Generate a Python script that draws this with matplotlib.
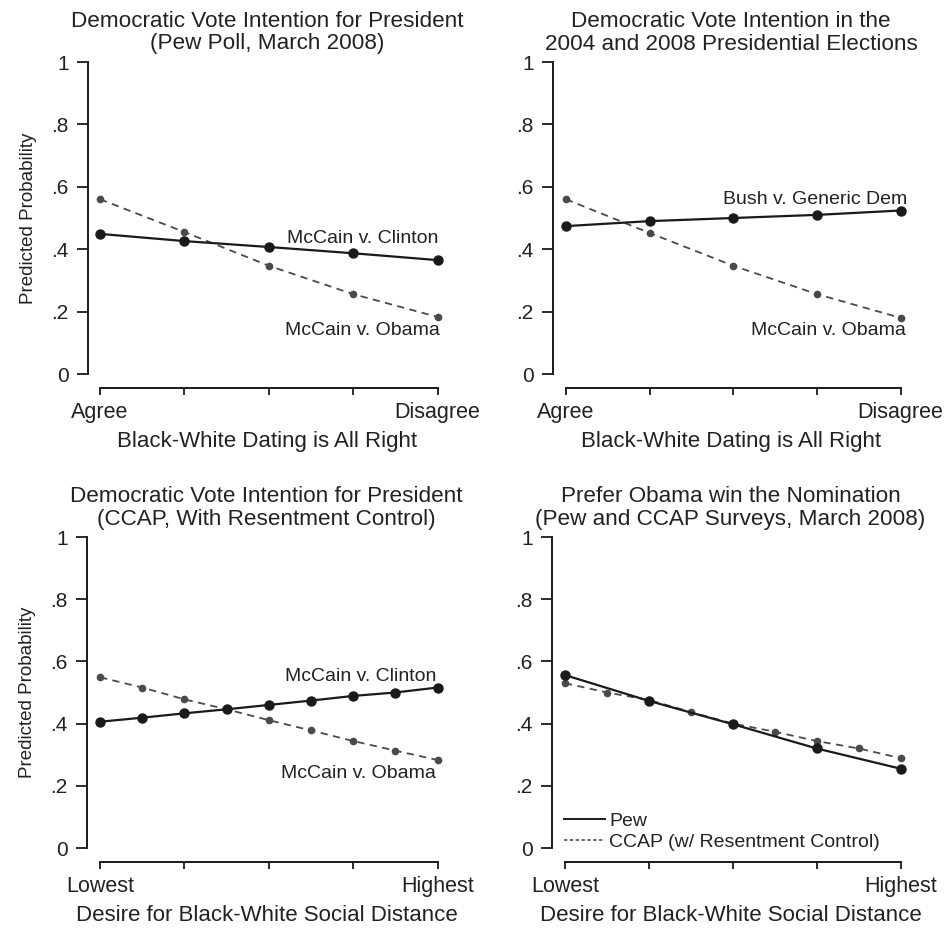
import matplotlib
matplotlib.use("Agg")
import matplotlib.pyplot as plt
from matplotlib.lines import Line2D

plt.rcParams['font.family'] = ['Liberation Sans', 'DejaVu Sans']

# ---------------- data ----------------
x5 = [1, 2, 3, 4, 5]
x9 = [1, 1.5, 2, 2.5, 3, 3.5, 4, 4.5, 5]

p1_clinton = [0.449, 0.426, 0.407, 0.387, 0.365]
p1_obama = [0.560, 0.455, 0.347, 0.256, 0.183]

p2_bush = [0.474, 0.490, 0.500, 0.510, 0.524]
p2_obama = [0.560, 0.452, 0.347, 0.256, 0.180]

p3_clinton = [0.406, 0.419, 0.433, 0.446, 0.460, 0.474, 0.489, 0.500, 0.516]
p3_obama = [0.549, 0.516, 0.478, 0.446, 0.411, 0.378, 0.344, 0.313, 0.283]

p4_pew = [0.556, 0.473, 0.398, 0.320, 0.255]
p4_ccap = [0.530, 0.500, 0.476, 0.437, 0.400, 0.374, 0.344, 0.320, 0.289]

yticks = [0, 0.2, 0.4, 0.6, 0.8, 1.0]
ytick_labels = ['0', '.2', '.4', '.6', '.8', '1']

titles = [
    "Democratic Vote Intention for President\n(Pew Poll, March 2008)",
    "Democratic Vote Intention in the\n2004 and 2008 Presidential Elections",
    "Democratic Vote Intention for President\n(CCAP, With Resentment Control)",
    "Prefer Obama win the Nomination\n(Pew and CCAP Surveys, March 2008)",
]
xend_top = ['Agree', 'Disagree']
xend_bottom = ['Lowest', 'Highest']
xlabel_top = 'Black-White Dating is All Right'
xlabel_bottom = 'Desire for Black-White Social Distance'
ylabel = 'Predicted Probability'

# ---------------- figure ----------------
W, H = 947, 930
fig = plt.figure(figsize=(W / 100, H / 100), dpi=100)

def px_axes(left, right, top, bottom):
    return fig.add_axes([left / W, 1 - bottom / H, (right - left) / W, (bottom - top) / H])

axes = [
    px_axes(88, 446, 62, 374),
    px_axes(553, 909, 62, 374),
    px_axes(87, 446, 537, 848),
    px_axes(552, 909, 537, 848),
]
xlims = [(0.857, 5.1), (0.845, 5.1), (0.845, 5.1), (0.845, 5.1)]

solid_c = '#1a1a1a'
dash_c = '#4a4a4a'
txt_c = '#222222'

for i, ax in enumerate(axes):
    ax.set_xlim(*xlims[i])
    ax.set_ylim(0, 1)
    for s in ['top', 'right']:
        ax.spines[s].set_visible(False)
    ax.spines['left'].set_bounds(0, 1)
    ax.spines['bottom'].set_bounds(1, 5)
    ax.spines['bottom'].set_position(('outward', 10))
    for s in ['left', 'bottom']:
        ax.spines[s].set_linewidth(1.4)
        ax.spines[s].set_color(solid_c)
    ax.set_yticks(yticks)
    ax.set_yticklabels(ytick_labels)
    ax.set_xticks(x5)
    ends = xend_top if i < 2 else xend_bottom
    ax.set_xticklabels([ends[0], '', '', '', ends[1]])
    ax.tick_params(axis='y', direction='out', length=8, width=1.3, pad=6,
                   labelsize=15, colors=solid_c, labelcolor=txt_c)
    ax.tick_params(axis='x', direction='out', length=5, width=1.3, pad=5,
                   labelsize=15.5, colors=solid_c, labelcolor=txt_c)
    ax.set_xlabel(xlabel_top if i < 2 else xlabel_bottom, fontsize=16,
                  color=txt_c, labelpad=6)
    if i in (0, 2):
        ax.set_ylabel(ylabel, fontsize=13.5, color=txt_c, labelpad=10)
    ax.set_title(titles[i], fontsize=16.2, color=txt_c, pad=9, linespacing=1.08)
    ax.patch.set_visible(False)

def solid(ax, x, y):
    ax.plot(x, y, '-', color=solid_c, lw=1.6, marker='o', ms=6.5, clip_on=False, zorder=3)

def dashed(ax, x, y):
    ax.plot(x, y, color=dash_c, lw=1.3, ls=(0, (4, 3)), marker='o', ms=4.5,
            clip_on=False, zorder=2)

ann = dict(ha='right', va='center', fontsize=14, color=txt_c)

# Panel 1
solid(axes[0], x5, p1_clinton)
dashed(axes[0], x5, p1_obama)
axes[0].text(5.01, 0.433, 'McCain v. Clinton', **ann)
axes[0].text(5.03, 0.141, 'McCain v. Obama', **ann)

# Panel 2
solid(axes[1], x5, p2_bush)
dashed(axes[1], x5, p2_obama)
axes[1].text(5.08, 0.558, 'Bush v. Generic Dem', **ann)
axes[1].text(5.06, 0.141, 'McCain v. Obama', **ann)

# Panel 3
solid(axes[2], x9, p3_clinton)
dashed(axes[2], x9, p3_obama)
axes[2].text(4.98, 0.55, 'McCain v. Clinton', **ann)
axes[2].text(4.98, 0.241, 'McCain v. Obama', **ann)

# Panel 4
solid(axes[3], x5, p4_pew)
dashed(axes[3], x9, p4_ccap)
handles = [Line2D([], [], color=solid_c, lw=1.4),
           Line2D([], [], color=dash_c, lw=1.2, ls=(0, (2, 1.5)))]
axes[3].legend(handles, ['Pew', 'CCAP (w/ Resentment Control)'], loc='lower left',
               bbox_to_anchor=(0.035, -0.01), frameon=False, fontsize=14,
               handlelength=2.1, handletextpad=0.2, labelspacing=0.2,
               borderaxespad=0, borderpad=0, labelcolor=txt_c)

fig.savefig('out.png', dpi=100, facecolor='white')
